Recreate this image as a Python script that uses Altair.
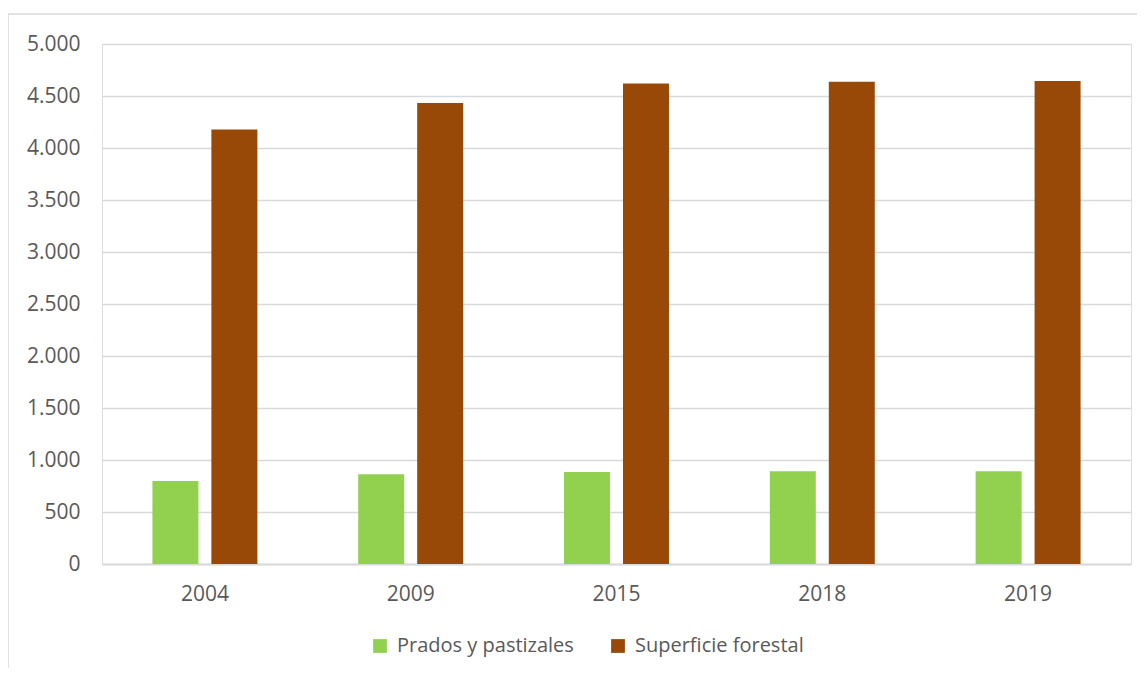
import altair as alt
import pandas as pd

years = ["2004", "2009", "2015", "2018", "2019"]
series_names = ["Prados y pastizales", "Superficie forestal"]
prados = [798, 862, 885, 891, 892]
forestal = [4177, 4433, 4619, 4638, 4644]
colors = ["#92D050", "#984807"]

rows = []
for i, y in enumerate(years):
    rows.append({"year": y, "serie": series_names[0], "value": prados[i]})
    rows.append({"year": y, "serie": series_names[1], "value": forestal[i]})
df = pd.DataFrame(rows)

FONT = "Open Sans"
W, H = 1029, 520

bars = alt.Chart(df).mark_bar().encode(
    x=alt.X("year:N", sort=years, title=None,
            scale=alt.Scale(paddingInner=0.49, paddingOuter=0.245),
            axis=alt.Axis(labelAngle=0, ticks=False, domain=True,
                          domainColor="#D9D9D9", domainWidth=2,
                          labelPadding=19, labelFontSize=21,
                          labelColor="#595959", labelFont=FONT, grid=False)),
    xOffset=alt.XOffset("serie:N", sort=series_names,
                        scale=alt.Scale(paddingInner=0.22, paddingOuter=0)),
    y=alt.Y("value:Q", title=None,
            scale=alt.Scale(domain=[0, 5000], nice=False),
            axis=alt.Axis(values=list(range(0, 5001, 500)), format=",d",
                          ticks=False, domain=False, labelPadding=22,
                          labelFontSize=21, labelColor="#595959", labelFont=FONT,
                          gridColor="#D9D9D9", gridWidth=1.5)),
    color=alt.Color("serie:N", sort=series_names,
                    scale=alt.Scale(domain=series_names, range=colors),
                    legend=alt.Legend(title=None, orient="none", direction="horizontal",
                                      legendX=268, legendY=592,
                                      symbolType="square", symbolSize=190,
                                      symbolStrokeWidth=0, symbolOpacity=1,
                                      labelFontSize=20, labelColor="#595959",
                                      labelFont=FONT, labelOffset=7, labelLimit=0,
                                      columnPadding=34)),
)

border = alt.Chart(pd.DataFrame({"a": [0]})).mark_rect(
    fill=None, stroke="#D9D9D9", strokeWidth=1.5, clip=False
).encode(
    x=alt.value(-94), x2=alt.value(W + 60),
    y=alt.value(-30), y2=alt.value(H + 200),
)

chart = alt.layer(border, bars).properties(
    width=W, height=H,
    autosize=alt.AutoSizeParams(type="none"),
    padding={"left": 94, "top": 36, "right": 6, "bottom": 104},
).configure_view(stroke=None).configure(
    locale={"number": {"decimal": ",", "thousands": ".", "grouping": [3],
                       "currency": ["", " €"]}}
)

chart.save("out.html", embed_options={"renderer": "svg", "actions": False})
